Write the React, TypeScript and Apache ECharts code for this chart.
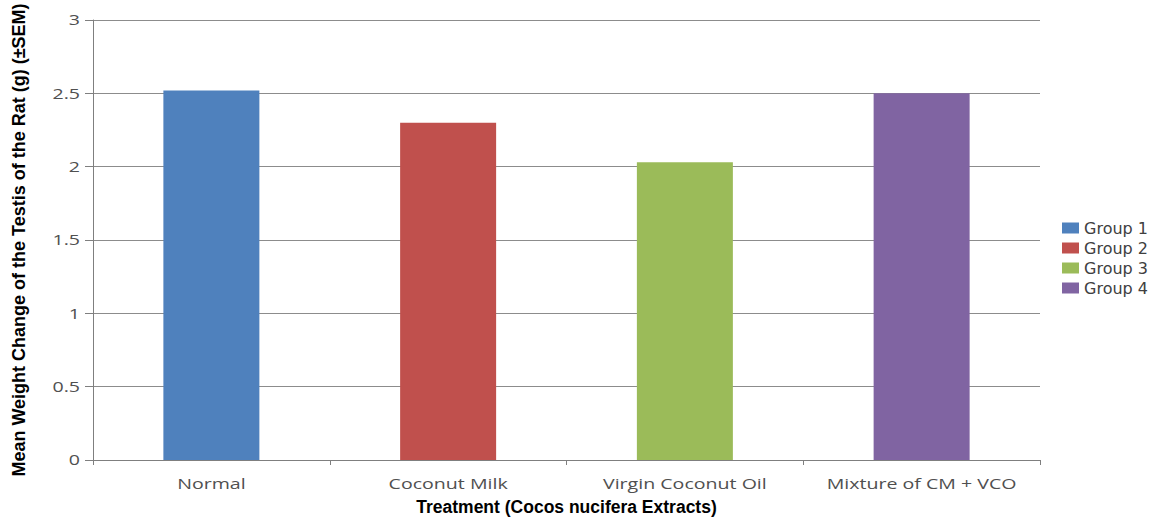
import React, { useEffect, useRef } from "react";
import * as echarts from "echarts";

const categories = ["Normal", "Coconut Milk", "Virgin Coconut Oil", "Mixture of CM + VCO"];
const groupNames = ["Group 1", "Group 2", "Group 3", "Group 4"];
const groupValues = [2.52, 2.3, 2.03, 2.5];
const groupColors = ["#4F81BD", "#C0504D", "#9BBB59", "#8064A2"];
const yTickLabels = ["0", "0.5", "1", "1.5", "2", "2.5", "3"];
const yTicks = { min: 0, max: 3, interval: 0.5 };

const labelFont = { fontFamily: "Open Sans", fontSize: 14, fill: "#505050" };
const STRETCH = 1.4;

export default function App() {
  const ref = useRef<HTMLDivElement>(null);
  useEffect(() => {
    if (!ref.current) return;
    const chart = echarts.init(ref.current, undefined, { renderer: "svg" });
    const series = groupNames.map((name, i) => ({
      name,
      type: "bar",
      stack: "all",
      barWidth: 96,
      itemStyle: { color: groupColors[i] },
      data: categories.map((_, j) => (j === i ? groupValues[i] : "-")),
    }));
    chart.setOption({
      animation: false,
      backgroundColor: "#ffffff",
      grid: { left: 93, right: 121, top: 20, bottom: 56, containLabel: false },
      legend: {
        orient: "vertical",
        left: 1057,
        top: 215,
        itemWidth: 17,
        itemHeight: 11,
        itemGap: 4,
        icon: "rect",
        textStyle: { fontFamily: "DejaVu Sans", fontSize: 16, color: "#404040" },
        data: groupNames,
      },
      xAxis: {
        type: "category",
        data: categories,
        boundaryGap: true,
        name: "Treatment (Cocos nucifera Extracts)",
        nameLocation: "middle",
        nameGap: 38,
        nameTextStyle: { fontFamily: "Liberation Sans", fontWeight: "bold", fontSize: 17.5, color: "#000" },
        axisLine: { lineStyle: { color: "#7f7f7f", width: 1 } },
        axisTick: { show: true, length: 5, lineStyle: { color: "#7f7f7f" } },
        axisLabel: { show: false },
      },
      yAxis: {
        type: "value",
        min: yTicks.min,
        max: yTicks.max,
        interval: yTicks.interval,
        name: "Mean Weight Change of the Testis of the Rat (g) (±SEM)",
        nameLocation: "middle",
        nameGap: 65,
        nameTextStyle: { fontFamily: "Liberation Sans", fontWeight: "bold", fontSize: 18, color: "#000" },
        axisLine: { show: true, lineStyle: { color: "#7f7f7f", width: 1 } },
        axisTick: { show: true, length: 8, lineStyle: { color: "#7f7f7f" } },
        splitLine: { show: true, lineStyle: { color: "#8c8c8c", width: 1 } },
        axisLabel: { show: false },
      },
      series,
    });

    const xZero = chart.convertToPixel({ yAxisIndex: 0 }, 0) as number;
    const xLabels = categories.map((c) => ({
      type: "text",
      x: chart.convertToPixel({ xAxisIndex: 0 }, c) as number,
      y: xZero + 17,
      scaleX: STRETCH,
      silent: true,
      style: { ...labelFont, text: c, align: "center", verticalAlign: "top" },
    }));
    const yLabels = yTickLabels.map((t) => ({
      type: "text",
      x: 80,
      y: chart.convertToPixel({ yAxisIndex: 0 }, Number(t)) as number,
      scaleX: STRETCH,
      silent: true,
      style: { ...labelFont, text: t, align: "right", verticalAlign: "middle" },
    }));
    chart.setOption({ graphic: [...xLabels, ...yLabels] });

    return () => chart.dispose();
  }, []);
  return <div ref={ref} style={{ width: 1161, height: 521, position: "absolute", left: 0, top: 0 }} />;
}
